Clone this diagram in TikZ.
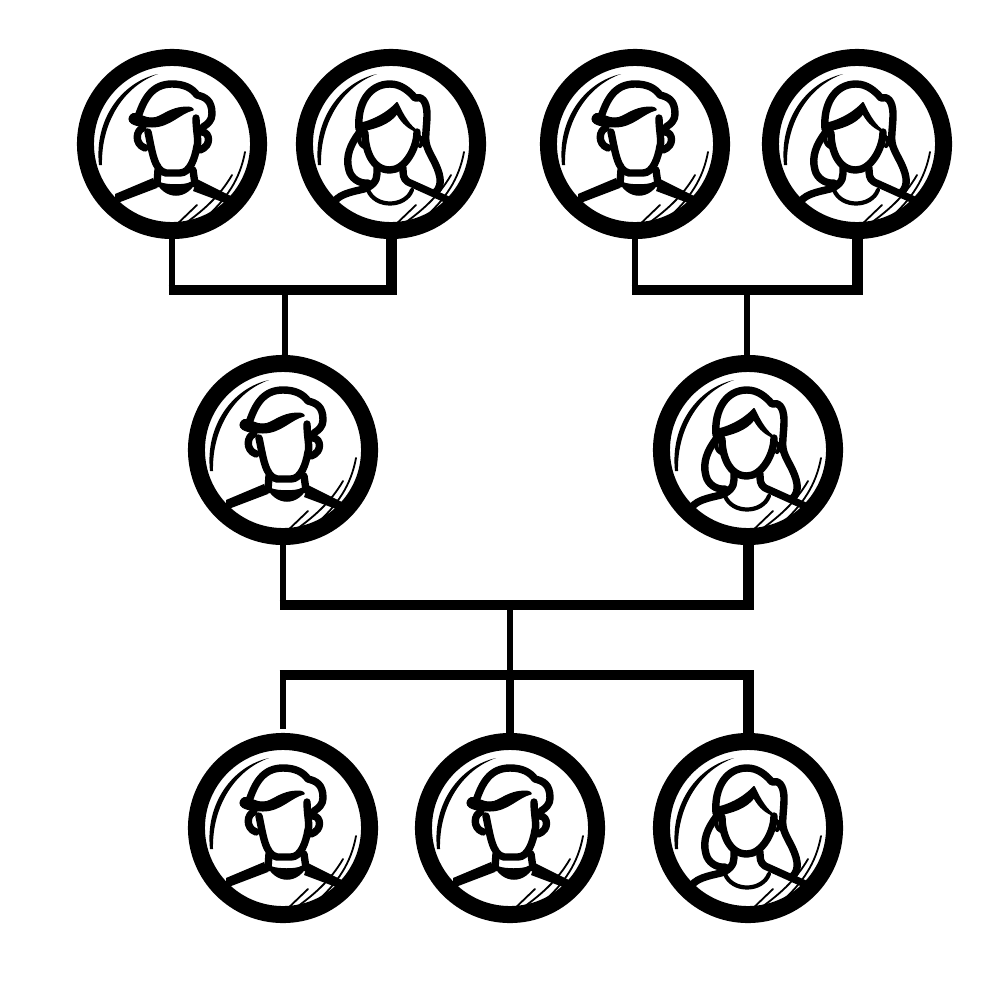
\documentclass[tikz,border=0pt]{standalone}
\usepackage{amsmath}
\usepackage{amssymb}

\tikzset{
	x=0.01cm, y=-0.01cm,
	ring/.style={circle, draw=black, line width=1.7mm, minimum size=17.3mm, inner sep=0pt, outer sep=0pt},
	slimlink/.style={black, line width=0.68mm},
	fatlink/.style={black, line width=1.1mm},
	barlink/.style={black, line width=0.98mm, shorten <=-0.34mm, shorten >=-0.55mm},
	outline/.style={black, line width=0.74mm, line cap=round, line join=round},
	fineline/.style={black, line width=0.42mm, line cap=round, line join=round},
	glint/.style={black, line width=0.18mm, line cap=round},
	gloss/.pic={
		\fill[black] (-14,-70) .. controls (-50,-62) and (-78,-25) .. (-73,21) -- (-70,21) .. controls (-71,-22) and (-48,-58) .. cycle;
		\draw[glint] (73,8) .. controls (68,35) and (55,55) .. (31,76);
		\draw[glint] (60,31) .. controls (48,52) and (30,68) .. (8,83);
		\draw[glint] (25,61) -- (1,84);
	},
	manicon/.pic={
		% hair
		\draw[outline] (-34,-27) .. controls (-28,-45) and (-20,-60) .. (0,-60) .. controls (12,-60) and (20,-56) .. (25,-49) .. controls (33,-47) and (40,-44) .. (40,-30) .. controls (40,-24) and (36,-20) .. (31,-17);
		\filldraw[black, line width=0.1mm] (-37,-30.5) .. controls (-32,-30) and (-28,-26) .. (-20,-26) .. controls (-10,-26) and (-4,-37) .. (16,-37) .. controls (19,-37) and (22,-35) .. (21,-34) .. controls (8,-31) and (-2,-17) .. (-20,-17) .. controls (-28,-17) and (-43,-18) .. (-43,-25) .. controls (-43,-28) and (-40,-31) .. cycle;
		% face
		\draw[outline] (24,-26) .. controls (24,-14) and (27,-2) .. (25,2) .. controls (23,14) and (18,29) .. (8,29) -- (-6,29) .. controls (-18,27) and (-20,6) .. (-24,-12);
		\draw[outline] (-29,-16) .. controls (-36,-14) and (-38,0) .. (-27,4);
		\draw[outline] (30,-12) .. controls (38,-12) and (40,2) .. (28,6);
		% neck and collar
		\draw[outline] (-14,26) -- (-15,40);
		\draw[outline] (21,26) -- (23,40);
		\fill[black] (-17,36) .. controls (-8,57) and (16,57) .. (25,36) -- (18,38) .. controls (14,41) and (-6,41) .. (-12,38) -- cycle;
		% shoulders
		\fill[black] (-19,34) -- (-57,50) -- (-57,60) -- (-15,44) -- cycle;
		\fill[black] (25,35) -- (59,52) -- (53,59) -- (21,47) -- cycle;
		\pic {gloss};
	},
	womanicon/.pic={
		% hair
		\draw[outline] (-32,-15) .. controls (-34,-40) and (-22,-60) .. (-1,-60) .. controls (10,-60) and (18,-53) .. (24,-46) .. controls (30,-48) and (36,-44) .. (36,-29) .. controls (36,-20) and (34,-8) .. (35,-2) .. controls (36,8) and (47,20) .. (49,34) .. controls (50,40) and (48,45) .. (44,49);
		\draw[outline] (-32,-11) .. controls (-40,0) and (-46,12) .. (-42,26) .. controls (-40,34) and (-32,40) .. (-23,39);
		\filldraw[black, line width=0.2mm, line join=round] (-32,-20) .. controls (-22,-22) and (-6,-28) .. (6,-41) .. controls (12,-28) and (18,-18) .. (27,-12) .. controls (18,-16) and (12,-20) .. (6,-31) .. controls (-2,-20) and (-16,-16) .. (-31,-13) -- cycle;
		% face
		\draw[outline] (-26,-11) .. controls (-26,4) and (-20,26) .. (-1,26) .. controls (14,26) and (26,4) .. (26,-12);
		\draw[fineline] (27,-8) .. controls (32,-6) and (32,0) .. (29,2);
		\draw[fineline] (-31,-9) .. controls (-33,-4) and (-31,1) .. (-27,3);
		% neck, shoulders and collar
		\draw[outline] (-14,24) .. controls (-14,32) and (-13,38) .. (-24,44) .. controls (-32,47) and (-50,48) .. (-57,58);
		\draw[outline] (12,24) .. controls (12,30) and (12,35) .. (17,38) -- (57,56);
		\draw[fineline] (-23,46) .. controls (-16,64) and (14,64) .. (21,46);
		\pic {gloss};
	}
}

\begin{document}
\begin{tikzpicture}
	\useasboundingbox (0,0) rectangle (1000,1000);

	\node[ring] (gpa1) at (172,144) {};
	\node[ring] (gma1) at (391,144) {};
	\node[ring] (gpa2) at (635,144) {};
	\node[ring] (gma2) at (857,144) {};
	\node[ring] (dad) at (283,450) {};
	\node[ring] (mum) at (748,450) {};
	\node[ring] (son1) at (283,828) {};
	\node[ring] (son2) at (510,828) {};
	\node[ring] (girl) at (748,828) {};

	\pic at (gpa1) {manicon};
	\pic at (gma1) {womanicon};
	\pic at (gpa2) {manicon};
	\pic at (gma2) {womanicon};
	\pic at (dad) {manicon};
	\pic at (mum) {womanicon};
	\pic at (son1) {manicon};
	\pic at (son2) {manicon};
	\pic at (girl) {womanicon};

	\coordinate (bar1) at (285,290);
	\coordinate (bar2) at (747,290);
	\coordinate (bar3) at (510,605);
	\coordinate (bar4) at (510,675);

	% left grandparents
	\draw[slimlink](gpa1) -- (gpa1 |- bar1);
	\draw[fatlink](gma1) -- (gma1 |- bar1);
	\draw[barlink](gpa1 |- bar1) -- (gma1 |- bar1);
	\draw[slimlink](bar1) -- (dad.north -| bar1);
	% right grandparents
	\draw[slimlink](gpa2) -- (gpa2 |- bar2);
	\draw[fatlink](gma2) -- (gma2 |- bar2);
	\draw[barlink](gpa2 |- bar2) -- (gma2 |- bar2);
	\draw[slimlink](bar2) -- (mum.north -| bar2);
	% parents
	\draw[slimlink](dad) -- (dad |- bar3);
	\draw[fatlink](mum) -- (mum |- bar3);
	\draw[barlink](dad |- bar3) -- (mum |- bar3);
	\draw[slimlink](bar3) -- (bar4);
	% children
	\draw[barlink, line width=1.05mm](son1 |- bar4) -- (girl |- bar4);
	\draw[slimlink, shorten >=1.2mm](son1 |- bar4) -- (son1);
	\draw[slimlink, line width=0.85mm](bar4) -- (son2);
	\draw[fatlink](girl |- bar4) -- (girl);
\end{tikzpicture}
\end{document}
